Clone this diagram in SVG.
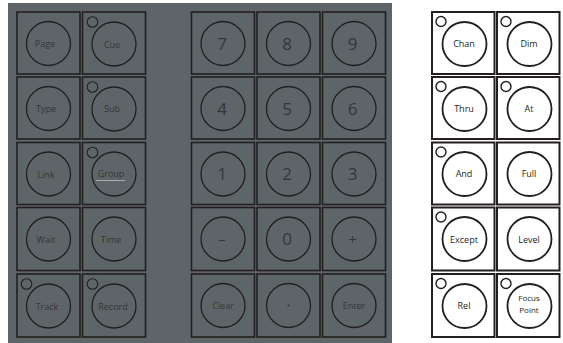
<svg xmlns="http://www.w3.org/2000/svg" width="563" height="343" viewBox="0 0 563 343">
<style>
.sq{fill:none;stroke:#231f20;stroke-width:1.6}
.bt{fill:none;stroke:#231f20;stroke-width:1.3}
.ind{fill:none;stroke:#231f20;stroke-width:1.1}
.lb{font-family:"Open Sans","Liberation Sans",sans-serif;font-size:9px;fill:#333638;text-anchor:middle}
.nm{font-family:"Open Sans","Liberation Sans",sans-serif;font-size:17px;fill:#333638;text-anchor:middle}
.wsq{fill:#fff;stroke:#231f20;stroke-width:2}
.wbt{fill:none;stroke:#231f20;stroke-width:1.8}
.wind{fill:none;stroke:#231f20;stroke-width:1.4}
.wl{font-family:"Open Sans","Liberation Sans",sans-serif;font-size:9px;fill:#231f20;text-anchor:middle}
</style>
<rect x="0" y="0" width="563" height="343" fill="#fff"/>
<rect x="8" y="3" width="384" height="340" fill="#5e6569"/>
<g id="page"><rect class="sq" x="17" y="12" width="63" height="62"/><circle class="bt" cx="48.5" cy="43.5" r="22"/><text class="lb" x="45" y="47">Page</text></g>
<g id="cue"><rect class="sq" x="82.5" y="12" width="63" height="62"/><circle class="ind" cx="92.5" cy="22" r="5.3"/><circle class="bt" cx="114" cy="44" r="22"/><text class="lb" x="112" y="47.5">Cue</text></g>
<g id="type"><rect class="sq" x="17" y="77" width="63" height="62"/><circle class="bt" cx="48.5" cy="108.5" r="22"/><text class="lb" x="46" y="112">Type</text></g>
<g id="sub"><rect class="sq" x="82.5" y="77" width="63" height="62"/><circle class="ind" cx="92.5" cy="87" r="5.3"/><circle class="bt" cx="114" cy="109" r="22"/><text class="lb" x="112" y="112">Sub</text></g>
<g id="link"><rect class="sq" x="17" y="142.5" width="63" height="62"/><circle class="bt" cx="48.5" cy="174" r="22"/><text class="lb" x="46" y="178">Link</text></g>
<g id="group"><rect class="sq" x="82.5" y="142.5" width="63" height="62"/><circle class="ind" cx="92.5" cy="152.5" r="5.3"/><circle class="bt" cx="114" cy="174" r="22"/><text class="lb" x="111" y="177">Group</text><line x1="96" y1="180.5" x2="125" y2="180.5" stroke="#c8cbcc" stroke-width="0.7"/></g>
<g id="wait"><rect class="sq" x="17" y="207.5" width="63" height="63"/><circle class="bt" cx="48.5" cy="239" r="22"/><text class="lb" x="46" y="243">Wait</text></g>
<g id="time"><rect class="sq" x="82.5" y="207.5" width="63" height="63"/><circle class="bt" cx="114" cy="239" r="22"/><text class="lb" x="111" y="243">Time</text></g>
<g id="track"><rect class="sq" x="17" y="274" width="63" height="63"/><circle class="ind" cx="26.5" cy="284" r="5.3"/><circle class="bt" cx="48.5" cy="306" r="22"/><text class="lb" x="47" y="310">Track</text></g>
<g id="record"><rect class="sq" x="82.5" y="274" width="63" height="63"/><circle class="ind" cx="92.5" cy="284" r="5.3"/><circle class="bt" cx="114" cy="306" r="22"/><text class="lb" x="113" y="310">Record</text></g>

<g id="k7"><rect class="sq" x="191.5" y="12" width="63" height="62"/><circle class="bt" cx="223" cy="43.5" r="22"/><text class="nm" x="222" y="50">7</text></g>
<g id="k8"><rect class="sq" x="257" y="12" width="63" height="62"/><circle class="bt" cx="288.5" cy="43.5" r="22"/><text class="nm" x="287" y="50">8</text></g>
<g id="k9"><rect class="sq" x="322.5" y="12" width="63" height="62"/><circle class="bt" cx="354" cy="43.5" r="22"/><text class="nm" x="352.5" y="50">9</text></g>
<g id="k4"><rect class="sq" x="191.5" y="77" width="63" height="62"/><circle class="bt" cx="223" cy="108.5" r="22"/><text class="nm" x="222" y="115">4</text></g>
<g id="k5"><rect class="sq" x="257" y="77" width="63" height="62"/><circle class="bt" cx="288.5" cy="108.5" r="22"/><text class="nm" x="287" y="115">5</text></g>
<g id="k6"><rect class="sq" x="322.5" y="77" width="63" height="62"/><circle class="bt" cx="354" cy="108.5" r="22"/><text class="nm" x="352.5" y="115">6</text></g>
<g id="k1"><rect class="sq" x="191.5" y="142.5" width="63" height="62"/><circle class="bt" cx="223" cy="174" r="22"/><text class="nm" x="222" y="180">1</text></g>
<g id="k2"><rect class="sq" x="257" y="142.5" width="63" height="62"/><circle class="bt" cx="288.5" cy="174" r="22"/><text class="nm" x="287" y="180">2</text></g>
<g id="k3"><rect class="sq" x="322.5" y="142.5" width="63" height="62"/><circle class="bt" cx="354" cy="174" r="22"/><text class="nm" x="352.5" y="180">3</text></g>
<g id="kminus"><rect class="sq" x="191.5" y="207.5" width="63" height="63"/><circle class="bt" cx="223" cy="239" r="22"/><text class="nm" x="222" y="245" style="font-size:14px">–</text></g>
<g id="k0"><rect class="sq" x="257" y="207.5" width="63" height="63"/><circle class="bt" cx="288.5" cy="239" r="22"/><text class="nm" x="287" y="245">0</text></g>
<g id="kplus"><rect class="sq" x="322.5" y="207.5" width="63" height="63"/><circle class="bt" cx="354" cy="239" r="22"/><text class="nm" x="352.5" y="245" style="font-size:15px">+</text></g>
<g id="clear"><rect class="sq" x="191.5" y="274" width="63" height="63"/><circle class="bt" cx="223" cy="305.5" r="22"/><text class="lb" x="223" y="309">Clear</text></g>
<g id="dot"><rect class="sq" x="257" y="274" width="63" height="63"/><circle class="bt" cx="288.5" cy="305.5" r="22"/><circle cx="288.5" cy="305.5" r="1" fill="#333638"/></g>
<g id="enter"><rect class="sq" x="322.5" y="274" width="63" height="63"/><circle class="bt" cx="354" cy="305.5" r="22"/><text class="lb" x="354" y="309">Enter</text></g>

<g id="chan"><rect class="wsq" x="432" y="12" width="62.5" height="62"/><circle class="wind" cx="441" cy="21.5" r="5"/><circle class="wbt" cx="464.5" cy="44" r="22"/><text class="wl" x="464" y="47">Chan</text></g>
<g id="dim"><rect class="wsq" x="497" y="12" width="62.5" height="62"/><circle class="wind" cx="506" cy="21.5" r="5"/><circle class="wbt" cx="529.5" cy="44" r="22"/><text class="wl" x="529" y="47">Dim</text></g>
<g id="thru"><rect class="wsq" x="432" y="77" width="62.5" height="62"/><circle class="wind" cx="441" cy="86.5" r="5"/><circle class="wbt" cx="464.5" cy="109" r="22"/><text class="wl" x="464" y="112">Thru</text></g>
<g id="at"><rect class="wsq" x="497" y="77" width="62.5" height="62"/><circle class="wind" cx="506" cy="86.5" r="5"/><circle class="wbt" cx="529.5" cy="109" r="22"/><text class="wl" x="529" y="112">At</text></g>
<g id="and"><rect class="wsq" x="432" y="142.5" width="62.5" height="62"/><circle class="wind" cx="441" cy="152" r="5"/><circle class="wbt" cx="464.5" cy="174" r="22"/><text class="wl" x="464" y="177">And</text></g>
<g id="full"><rect class="wsq" x="497" y="142.5" width="62.5" height="62"/><circle class="wbt" cx="529.5" cy="174" r="22"/><text class="wl" x="529" y="177">Full</text></g>
<g id="except"><rect class="wsq" x="432" y="207.5" width="62.5" height="63"/><circle class="wind" cx="441" cy="217" r="5"/><circle class="wbt" cx="464.5" cy="239" r="22"/><text class="wl" x="464" y="242.5">Except</text></g>
<g id="level"><rect class="wsq" x="497" y="207.5" width="62.5" height="63"/><circle class="wbt" cx="529.5" cy="239" r="22"/><text class="wl" x="529" y="242.5">Level</text></g>
<g id="rel"><rect class="wsq" x="432" y="274" width="62.5" height="63"/><circle class="wind" cx="441" cy="283.5" r="5"/><circle class="wbt" cx="464.5" cy="306" r="22"/><text class="wl" x="464" y="309">Rel</text></g>
<g id="focuspoint"><rect class="wsq" x="497" y="274" width="62.5" height="63"/><circle class="wind" cx="506" cy="283.5" r="5"/><circle class="wbt" cx="529.5" cy="306" r="22"/><text class="wl" x="529" y="301" style="font-size:8px">Focus</text><text class="wl" x="529" y="312.5" style="font-size:8px">Point</text></g>
<g id="connectors"/>
</svg>
